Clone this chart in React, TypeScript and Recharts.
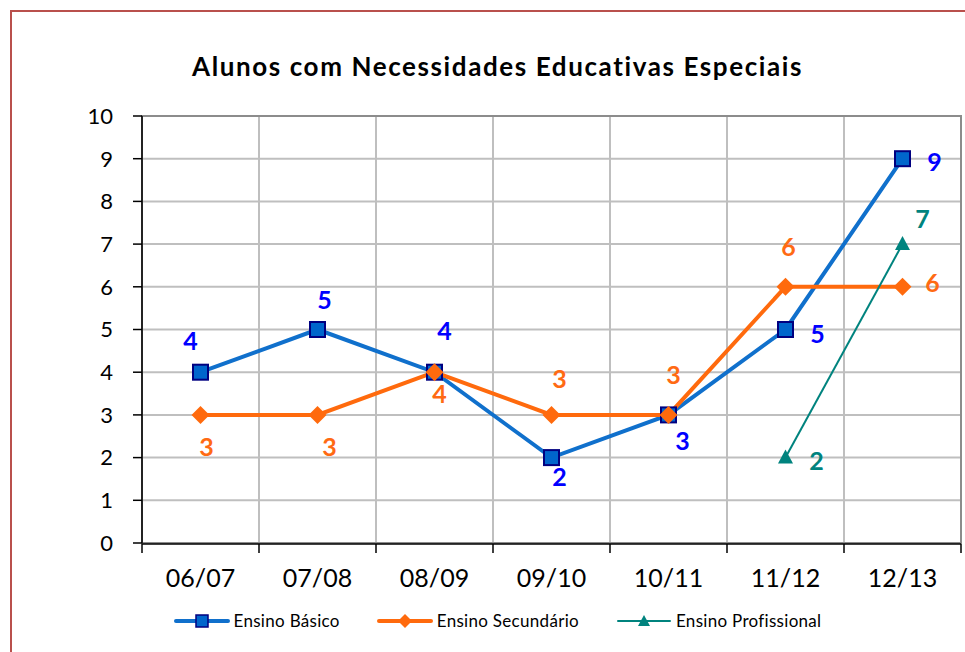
import React from 'react'
import { LineChart, Line, XAxis, YAxis, CartesianGrid, LabelList, ReferenceArea } from 'recharts'

const years = ['06/07', '07/08', '08/09', '09/10', '10/11', '11/12', '12/13']
const basico = [4, 5, 4, 2, 3, 5, 9]
const secundario = [3, 3, 4, 3, 3, 6, 6]
const profissional: (number | null)[] = [null, null, null, null, null, 2, 7]
const yTicks = [0, 1, 2, 3, 4, 5, 6, 7, 8, 9, 10]
const bandEdges = [0, 1, 2, 3, 4, 5, 6, 7]

// where each value label sits relative to its point (Excel moved them by hand)
const basicoLabelPos = [[-10, -32], [7, -31], [10, -42], [8, 18], [14, 25], [32, 3], [32, 2]]
const secundarioLabelPos = [[6, 31], [12, 31], [5, 21], [8, -37], [5, -41], [3, -41], [30, -5]]
const profissionalLabelPos = [[0, 0], [0, 0], [0, 0], [0, 0], [0, 0], [31, 2], [20, -26]]

const BLUE = '#1070CC'
const ORANGE = '#FF6A0D'
const TEAL = '#00837E'
const FONT = 'Lato, "Noto Sans", sans-serif'

const data = years.map((year, i) => ({
  year,
  slot: i + 0.5,
  basico: basico[i],
  secundario: secundario[i],
  profissional: profissional[i],
}))

function SquareDot({ cx, cy }: any) {
  if (cx == null || cy == null) return null
  return <rect x={cx - 7.5} y={cy - 7.5} width={15} height={15} fill="#0066CC" stroke="#000080" strokeWidth={2} />
}

function DiamondDot({ cx, cy }: any) {
  if (cx == null || cy == null) return null
  const r = 9
  return <path d={`M${cx},${cy - r}L${cx + r},${cy}L${cx},${cy + r}L${cx - r},${cy}Z`} fill={ORANGE} />
}

function TriangleDot({ cx, cy }: any) {
  if (cx == null || cy == null) return null
  return <path d={`M${cx},${cy - 8}L${cx + 7.5},${cy + 6}L${cx - 7.5},${cy + 6}Z`} fill={TEAL} />
}

const makeLabel = (pos: number[][], color: string) => (props: any) => {
  const { x, y, value, index } = props
  if (value == null || x == null || y == null) return null
  const [dx, dy] = pos[index]
  return (
    <text
      x={x + dx}
      y={y + dy}
      textAnchor="middle"
      dominantBaseline="central"
      fill={color}
      fontSize={25}
      fontWeight={700}
      fontFamily={FONT}
    >
      {value}
    </text>
  )
}

function LegendIcon({ color, width, marker }: { color: string; width: number; marker: React.ReactNode }) {
  return (
    <svg width={56} height={20} style={{ display: 'block' }}>
      <line x1={2} y1={10} x2={54} y2={10} stroke={color} strokeWidth={width} strokeLinecap="round" />
      {marker}
    </svg>
  )
}

export default function App() {
  const legendItems = [
    {
      name: 'Ensino Básico',
      icon: <LegendIcon color={BLUE} width={4} marker={<rect x={22} y={4} width={12} height={12} fill="#0066CC" stroke="#000080" strokeWidth={1.5} />} />,
    },
    {
      name: 'Ensino Secundário',
      icon: <LegendIcon color={ORANGE} width={4} marker={<path d="M28,3L35,10L28,17L21,10Z" fill={ORANGE} />} />,
    },
    {
      name: 'Ensino Profissional',
      icon: <LegendIcon color={TEAL} width={2} marker={<path d="M28,4L34,15L22,15Z" fill={TEAL} />} />,
    },
  ]

  return (
    <div
      style={{
        position: 'fixed',
        left: 10,
        top: 10,
        width: 971,
        height: 660,
        border: '2px solid #B9504C',
        background: '#fff',
        fontFamily: FONT,
      }}
    >
      <div
        style={{
          position: 'absolute',
          left: 0,
          top: 38,
          width: 971,
          textAlign: 'center',
          fontSize: 26,
          fontWeight: 700,
          letterSpacing: 1.6,
          color: '#000',
          lineHeight: '32px',
        }}
      >
        Alunos com Necessidades Educativas Especiais
      </div>

      <div style={{ position: 'absolute', left: 0, top: 0 }}>
        <LineChart width={960} height={630} data={data} margin={{ top: 104, right: 11, left: 0, bottom: 96 }}>
          <CartesianGrid xAxisId="grid" stroke="#BFBFBF" strokeWidth={2} />
          <ReferenceArea
            xAxisId="grid"
            x1={0}
            x2={7}
            y1={0}
            y2={10}
            fill="none"
            stroke="#8C8C8C"
            strokeWidth={2}
            ifOverflow="visible"
          />
          <XAxis
            xAxisId="grid"
            dataKey="slot"
            type="number"
            domain={[0, 7]}
            ticks={bandEdges}
            allowDataOverflow
            tickFormatter={() => ''}
            height={2}
            tickSize={9}
            stroke="#000"
            strokeWidth={1.5}
          />
          <XAxis
            xAxisId="cat"
            dataKey="year"
            type="category"
            scale="band"
            height={1}
            axisLine={false}
            tickLine={false}
            tickSize={6}
            tickMargin={20}
            tick={{ fontSize: 25, fill: '#000', fontFamily: FONT }}
            interval={0}
          />
          <YAxis
            domain={[0, 10]}
            ticks={yTicks}
            width={130}
            tickSize={9}
            tickMargin={20}
            stroke="#000"
            strokeWidth={1.5}
            tick={{ fontSize: 22, fill: '#000', fontFamily: FONT }}
            interval={0}
          />
          <Line
            xAxisId="cat"
            dataKey="basico"
            name="Ensino Básico"
            stroke={BLUE}
            strokeWidth={4}
            dot={<SquareDot />}
            activeDot={false}
            isAnimationActive={false}
          >
            <LabelList dataKey="basico" content={makeLabel(basicoLabelPos, '#0000FF')} />
          </Line>
          <Line
            xAxisId="cat"
            dataKey="secundario"
            name="Ensino Secundário"
            stroke={ORANGE}
            strokeWidth={4}
            dot={<DiamondDot />}
            activeDot={false}
            isAnimationActive={false}
          >
            <LabelList dataKey="secundario" content={makeLabel(secundarioLabelPos, '#FF6A13')} />
          </Line>
          <Line
            xAxisId="cat"
            dataKey="profissional"
            name="Ensino Profissional"
            stroke={TEAL}
            strokeWidth={2}
            dot={<TriangleDot />}
            activeDot={false}
            isAnimationActive={false}
          >
            <LabelList dataKey="profissional" content={makeLabel(profissionalLabelPos, TEAL)} />
          </Line>
        </LineChart>
      </div>

      {/* Legend */}
      <div
        style={{
          position: 'absolute',
          left: 0,
          top: 598,
          width: 971,
          display: 'flex',
          justifyContent: 'center',
          alignItems: 'center',
          gap: 37,
          fontSize: 17,
          letterSpacing: 0.3,
          color: '#000',
        }}
      >
        {legendItems.map((item) => (
          <div key={item.name} style={{ display: 'flex', alignItems: 'center', gap: 4 }}>
            {item.icon}
            <span>{item.name}</span>
          </div>
        ))}
      </div>
    </div>
  )
}
